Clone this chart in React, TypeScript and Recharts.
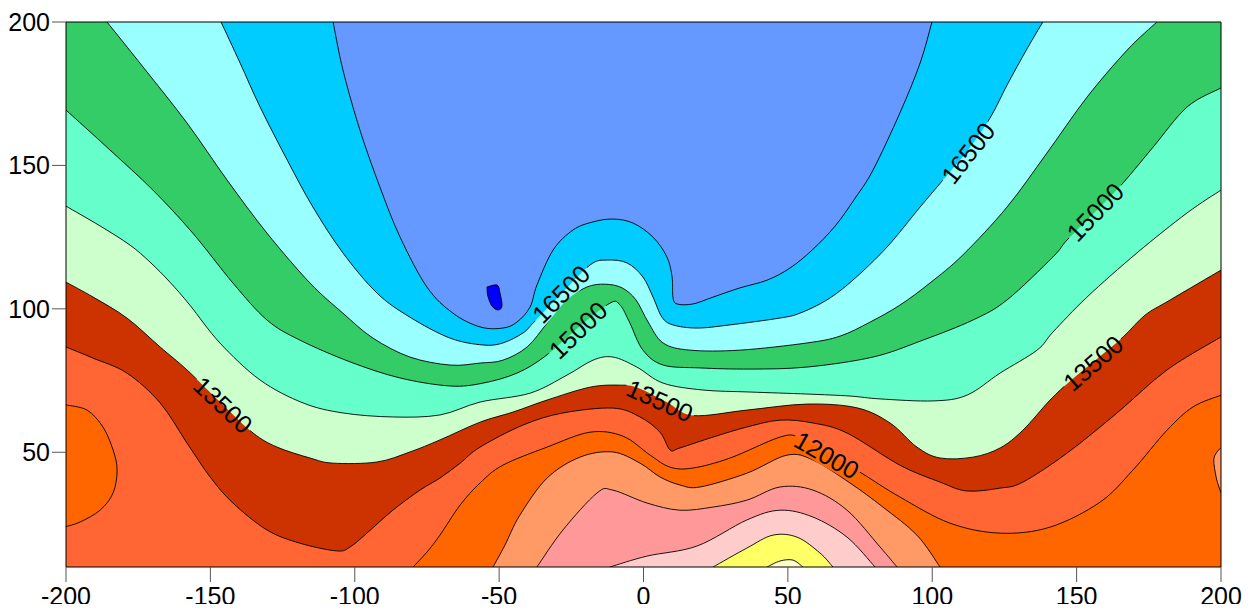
import { ScatterChart, Scatter, XAxis, YAxis, Curve } from "recharts";

type Pt = [number, number];

const xTicks = [-200, -150, -100, -50, 0, 50, 100, 150, 200];
const yTicks = [50, 100, 150, 200];

// plot frame (data domain corners)
const frame: Pt[] = [[-200, 10], [200, 10], [200, 200], [-200, 200]];

// contour lines
const c18000: Pt[] = [[-54.2, 107.6], [-50.7, 108.3], [-49.7, 105.5], [-49.0, 101.0], [-50.4, 99.6], [-52.5, 101.0], [-53.9, 104.5], [-54.2, 107.6]];

const c17250: Pt[] = [[-107.5, 200], [-104.1, 183.3], [-98.2, 162.3], [-91.3, 142.5], [-84.3, 125.0], [-75.0, 107.6], [-66.0, 98.5], [-56.6, 93.7], [-48.7, 93.3], [-43.8, 95.4], [-39.3, 100.6], [-36.9, 108.3], [-31.3, 120.5], [-24.4, 127.5], [-17.5, 130.3], [-10.6, 131.3], [-3.6, 129.9], [3.3, 125.0], [8.1, 118.1], [9.9, 111.1], [10.2, 104.1], [11.6, 101.7], [17.1, 101.7], [24.1, 104.1], [33.4, 107.3], [42.8, 110.0], [50.7, 114.2], [58.4, 120.5], [66.4, 128.9], [73.3, 138.6], [79.5, 148.4], [88.8, 168.3], [95.8, 185.7], [99.9, 200]];

const c16500: Pt[] = [[-146.3, 200], [-139.7, 185.7], [-132.8, 170.4], [-123.4, 151.9], [-114.5, 135.5], [-104.1, 119.5], [-92.3, 105.5], [-80.9, 97.1], [-67.0, 89.8], [-55.6, 87.4], [-48.7, 88.1], [-41.7, 91.6], [-38.3, 95.0], [-28.9, 104.8], [-18.5, 115.3], [-12.6, 117.0], [-5.7, 116.0], [-0.2, 111.1], [3.3, 104.1], [6.4, 97.1], [10.2, 94.4], [18.5, 93.3], [29.9, 94.4], [47.3, 96.8], [54.2, 98.5], [63.5, 103.1], [72.5, 110.0], [84.3, 121.5], [95.8, 135.5], [103.7, 144.9], [112.4, 155.4], [120.0, 166.5], [125.9, 178.0], [132.8, 190.6], [138.3, 200]];

const c15750: Pt[] = [[-185.8, 200], [-173.3, 184.3], [-158.1, 164.8], [-144.2, 144.9], [-130.4, 126.4], [-115.5, 109.0], [-104.1, 98.5], [-93.7, 89.8], [-80.9, 83.2], [-67.0, 80.4], [-56.6, 81.1], [-48.7, 82.1], [-40.3, 86.7], [-33.4, 95.0], [-26.5, 103.1], [-19.6, 107.6], [-13.3, 108.6], [-7.4, 107.3], [-2.6, 103.1], [1.6, 95.4], [6.8, 88.1], [16.1, 85.6], [33.4, 85.6], [56.6, 88.1], [68.1, 90.5], [78.5, 95.4], [88.8, 101.3], [99.2, 109.0], [110.6, 118.8], [125.9, 135.5], [139.7, 154.3], [153.6, 173.8], [167.5, 190.2], [177.8, 200]];

const c15000: Pt[] = [[-200, 169.3], [-184.8, 155.4], [-169.9, 141.4], [-156.1, 126.4], [-142.2, 109.0], [-130.4, 96.1], [-119.0, 89.1], [-101.6, 81.5], [-84.3, 75.9], [-67.0, 73.1], [-55.6, 74.1], [-43.8, 77.6], [-34.0, 83.5], [-22.5, 93.5], [-11.6, 102.0], [-8.1, 101.3], [-4.7, 95.0], [-0.2, 85.6], [6.8, 80.4], [19.6, 79.4], [36.9, 79.0], [56.6, 79.7], [79.5, 83.2], [96.8, 89.1], [114.1, 96.1], [125.9, 103.1], [141.8, 118.1], [146.7, 124.0], [156.4, 133.8], [166.1, 143.9], [176.5, 156.4], [188.3, 170.4], [200, 177.0]];

const c14250: Pt[] = [[-200, 135.8], [-188.2, 128.9], [-177.8, 122.2], [-170.9, 116.3], [-164.0, 109.3], [-157.1, 101.3], [-146.7, 88.1], [-132.8, 75.2], [-117.9, 67.2], [-104.1, 63.7], [-86.8, 62.3], [-70.5, 63.0], [-56.6, 67.5], [-39.3, 70.6], [-26.5, 76.9], [-17.5, 82.1], [-10.6, 83.2], [-2.3, 79.7], [6.8, 74.1], [20.6, 71.7], [36.9, 71.0], [56.6, 70.3], [71.5, 69.6], [81.9, 68.6], [100.3, 67.9], [112.0, 69.9], [123.5, 77.6], [136.3, 85.6], [141.8, 91.9], [153.6, 104.1], [170.9, 119.5], [188.2, 133.4], [200, 141.4]];

const c13500: Pt[] = [[-200, 109.3], [-190.6, 104.1], [-178.9, 96.8], [-167.4, 86.7], [-158.1, 78.7], [-145.6, 66.5], [-135.2, 56.7], [-126.9, 51.8], [-115.5, 48.0], [-107.5, 46.2], [-92.3, 46.6], [-80.9, 50.1], [-70.5, 54.3], [-56.6, 60.5], [-45.2, 64.0], [-33.4, 68.2], [-18.5, 72.7], [-8.1, 73.4], [-2.0, 72.5], [8.0, 67.5], [17.1, 62.8], [35.8, 64.7], [56.6, 66.8], [73.9, 65.5], [85.4, 60.2], [94.7, 51.8], [102.7, 48.0], [114.1, 48.3], [123.5, 51.5], [131.4, 57.7], [140.8, 68.2], [148.0, 75.0], [157.0, 82.5], [166.1, 90.2], [173.7, 97.8], [182.4, 103.1], [200, 113.5]];

const c12750: Pt[] = [[-200, 86.7], [-190.6, 82.8], [-178.9, 77.6], [-167.4, 67.2], [-158.1, 53.2], [-150.1, 41.4], [-142.2, 32.3], [-130.4, 22.9], [-119.0, 18.3], [-106.2, 15.6], [-101.6, 17.0], [-95.8, 21.8], [-86.8, 29.8], [-77.4, 36.8], [-70.5, 41.0], [-63.5, 46.2], [-56.6, 51.8], [-41.7, 59.5], [-27.9, 63.7], [-10.6, 65.4], [-1.2, 62.3], [5.7, 57.0], [9.2, 50.8], [12.6, 51.5], [24.1, 55.3], [35.8, 58.8], [47.3, 61.2], [58.7, 60.2], [70.5, 56.7], [88.8, 45.5], [102.7, 39.6], [112.0, 36.5], [123.5, 37.5], [131.4, 39.6], [146.7, 49.7], [164.0, 63.7], [181.3, 78.7], [200, 90.2]];

const c12000: Pt[] = [[-79.8, 10], [-75.0, 15.2], [-70.5, 21.1], [-63.5, 31.6], [-56.6, 39.3], [-48.7, 45.5], [-33.4, 51.8], [-18.5, 57.0], [-7.1, 55.6], [2.3, 49.0], [9.2, 44.8], [17.1, 44.5], [30.0, 48.0], [47.3, 55.3], [54.0, 55.2], [63.5, 50.0], [75.7, 42.6], [88.8, 34.4], [106.1, 25.3], [123.5, 21.8], [140.8, 23.9], [158.1, 32.6], [169.5, 43.8], [181.3, 57.7], [190.3, 65.8], [200, 69.9]];
const c12000left: Pt[] = [[-200, 66.5], [-192.7, 64.7], [-187.2, 58.8], [-183.7, 50.8], [-182.3, 43.8], [-183.7, 35.8], [-188.2, 29.8], [-195.1, 25.7], [-200, 24.1]];

const c11250: Pt[] = [[-52.1, 10], [-48.0, 17.6], [-42.8, 28.1], [-33.4, 41.0], [-22.0, 48.3], [-10.6, 50.1], [-1.2, 46.2], [5.7, 41.4], [12.6, 38.6], [19.6, 37.9], [35.8, 42.7], [49.7, 49.0], [58.7, 47.3], [71.5, 39.3], [82.9, 30.9], [94.7, 21.1], [102.7, 10]];
const c11250right: Pt[] = [[200, 51.5], [198.6, 50.1], [197.5, 47.3], [198.3, 41.4], [199.3, 37.9], [200, 35.8]];

const c10500: Pt[] = [[-36.9, 10], [-27.9, 22.9], [-16.1, 35.8], [-10.6, 36.8], [1.2, 32.3], [12.6, 29.8], [24.1, 30.9], [35.8, 33.3], [47.3, 37.9], [58.7, 36.8], [70.5, 29.8], [81.9, 17.0], [87.8, 10]];
const c9750: Pt[] = [[-11.6, 10], [1.2, 13.8], [18.5, 17.3], [35.8, 26.4], [47.3, 29.8], [58.7, 27.4], [70.5, 20.4], [80.2, 10]];
const c9000: Pt[] = [[24.1, 10], [35.8, 16.6], [44.8, 21.1], [53.2, 20.4], [61.1, 14.9], [65.6, 10]];
const c8250: Pt[] = [[42.8, 10], [47.3, 12.1], [51.8, 12.4], [55.2, 10]];

const contourLabels = [
  { x: -28.6, y: 105.2, text: "16500" },
  { x: -22.7, y: 92.6, text: "15000" },
  { x: 5.7, y: 68.0, text: "13500" },
  { x: 63.5, y: 49.0, text: "12000" },
  { x: -145.6, y: 66.5, text: "13500" },
  { x: 155.7, y: 81.1, text: "13500" },
  { x: 112.4, y: 154.3, text: "16500" },
  { x: 156.4, y: 133.8, text: "15000" },
];
const labelAngles = [-45, -44, 24, 30, 43, -41, -52, -46];

// the contour end is repeated so the smoothed edge meets the corners cleanly
const withEnd = (c: Pt[]): Pt[] => [...c, c[c.length - 1]];
const belowTop = (c: Pt[]): Pt[] => [...withEnd(c), [200, 200], [200, 10], [-200, 10], [-200, 200]];
const belowSide = (c: Pt[]): Pt[] => [...withEnd(c), [200, 10], [-200, 10]];

// painted from the highest level down, each one over the last
const fills: { color: string; pts: Pt[] }[] = [
  { color: "#6699ff", pts: frame },
  { color: "#00ccff", pts: belowTop(c17250) },
  { color: "#99ffff", pts: belowTop(c16500) },
  { color: "#33cc66", pts: belowTop(c15750) },
  { color: "#66ffcc", pts: belowSide(c15000) },
  { color: "#ccffcc", pts: belowSide(c14250) },
  { color: "#cc3300", pts: belowSide(c13500) },
  { color: "#ff6633", pts: belowSide(c12750) },
  { color: "#ff6600", pts: [...withEnd(c12000), [200, 10]] },
  { color: "#ff6600", pts: c12000left },
  { color: "#ff9966", pts: c11250 },
  { color: "#ff9966", pts: c11250right },
  { color: "#ff9999", pts: c10500 },
  { color: "#ffcccc", pts: c9750 },
  { color: "#ffff66", pts: c9000 },
  { color: "#ffffcc", pts: c8250 },
  { color: "#0000ff", pts: c18000 },
];

const lines: Pt[][] = [
  c17250, c16500, c15750, c15000, c14250, c13500, c12750, c12000, c12000left,
  c11250, c11250right, c10500, c9750, c9000, c8250, c18000,
];

// catmull-rom through the points, so the contours come out round
const smoothCurve = (context: any) => {
  let pts: number[][] = [];
  return {
    areaStart() {},
    areaEnd() {},
    lineStart() {
      pts = [];
    },
    point(x: number, y: number) {
      pts.push([+x, +y]);
    },
    lineEnd() {
      const n = pts.length;
      if (!n) return;
      context.moveTo(pts[0][0], pts[0][1]);
      for (let i = 0; i < n - 1; i++) {
        const p0 = pts[i - 1] || pts[i];
        const p1 = pts[i];
        const p2 = pts[i + 1];
        const p3 = pts[i + 2] || p2;
        context.bezierCurveTo(
          p1[0] + (p2[0] - p0[0]) / 6,
          p1[1] + (p2[1] - p0[1]) / 6,
          p2[0] - (p3[0] - p1[0]) / 6,
          p2[1] - (p3[1] - p1[1]) / 6,
          p2[0],
          p2[1]
        );
      }
    },
  };
};

const toXY = (pts: Pt[]) => pts.map(([x, y]) => ({ x, y }));
const NoDot = () => <g />;

const renderLabel = (props: any) => {
  const { cx, cy, payload } = props;
  return (
    <text
      x={cx}
      y={cy}
      dy="0.36em"
      textAnchor="middle"
      fontSize={25}
      fill="#000"
      transform={`rotate(${payload.angle} ${cx} ${cy})`}
    >
      {payload.text}
    </text>
  );
};

// mask that breaks the contour lines where the labels sit
const renderGapMask = (props: any) => (
  <mask id="labelGap" maskUnits="userSpaceOnUse" x={-2000} y={-2000} width={6000} height={6000}>
    <rect x={-2000} y={-2000} width={6000} height={6000} fill="#fff" />
    {props.points.map((p: any, i: number) => (
      <rect
        key={i}
        x={p.x - 37}
        y={p.y - 11}
        width={74}
        height={22}
        fill="#000"
        transform={`rotate(${labelAngles[i]} ${p.x} ${p.y})`}
      />
    ))}
  </mask>
);

const renderContour = (props: any) => (
  <Curve
    points={props.points}
    type={smoothCurve}
    fill="none"
    stroke="#000"
    strokeWidth={0.9}
    mask="url(#labelGap)"
  />
);

export default function App() {
  const labelData = contourLabels.map((l, i) => ({ ...l, angle: labelAngles[i] }));
  const tickFont = { fontSize: 25, fill: "#000" };

  return (
    <div style={{ fontFamily: '"Liberation Sans", Arial, sans-serif' }}>
      <style>{".recharts-surface{overflow:visible}"}</style>
      <ScatterChart width={1237} height={596} margin={{ top: 0, right: 0, bottom: 0, left: 0 }}>
        <XAxis
          type="number"
          dataKey="x"
          domain={[-200, 200]}
          ticks={xTicks}
          allowDataOverflow
          height={37}
          tickSize={15}
          tickMargin={5}
          tick={tickFont}
          axisLine={{ stroke: "#000" }}
          tickLine={{ stroke: "#555" }}
        />
        <XAxis
          xAxisId="top"
          orientation="top"
          type="number"
          dataKey="x"
          domain={[-200, 200]}
          ticks={xTicks}
          allowDataOverflow
          height={14}
          tickSize={14}
          tick={false}
          axisLine={{ stroke: "#000" }}
          tickLine={{ stroke: "#555" }}
        />
        <YAxis
          type="number"
          dataKey="y"
          domain={[10, 200]}
          ticks={yTicks}
          allowDataOverflow
          width={58}
          tickSize={14}
          tickMargin={2}
          tick={tickFont}
          axisLine={{ stroke: "#000" }}
          tickLine={{ stroke: "#555" }}
        />
        <YAxis
          yAxisId="right"
          orientation="right"
          type="number"
          dataKey="y"
          domain={[10, 200]}
          ticks={yTicks}
          allowDataOverflow
          width={24}
          tickSize={15}
          tick={false}
          axisLine={{ stroke: "#000" }}
          tickLine={{ stroke: "#555" }}
        />
        {fills.map((f, i) => (
          <Scatter
            key={`fill-${i}`}
            data={toXY(f.pts)}
            shape={NoDot}
            line={{ fill: f.color, stroke: "none" }}
            lineJointType={smoothCurve}
            isAnimationActive={false}
          />
        ))}
        {lines.map((c, i) => (
          <Scatter
            key={`line-${i}`}
            data={toXY(c)}
            shape={NoDot}
            line={renderContour}
            isAnimationActive={false}
          />
        ))}
        <Scatter
          data={toXY([...frame, frame[0]])}
          shape={NoDot}
          line={{ fill: "none", stroke: "#000", strokeWidth: 1 }}
          isAnimationActive={false}
        />
        <Scatter data={labelData} shape={renderLabel} line={renderGapMask} isAnimationActive={false} />
      </ScatterChart>
    </div>
  );
}
